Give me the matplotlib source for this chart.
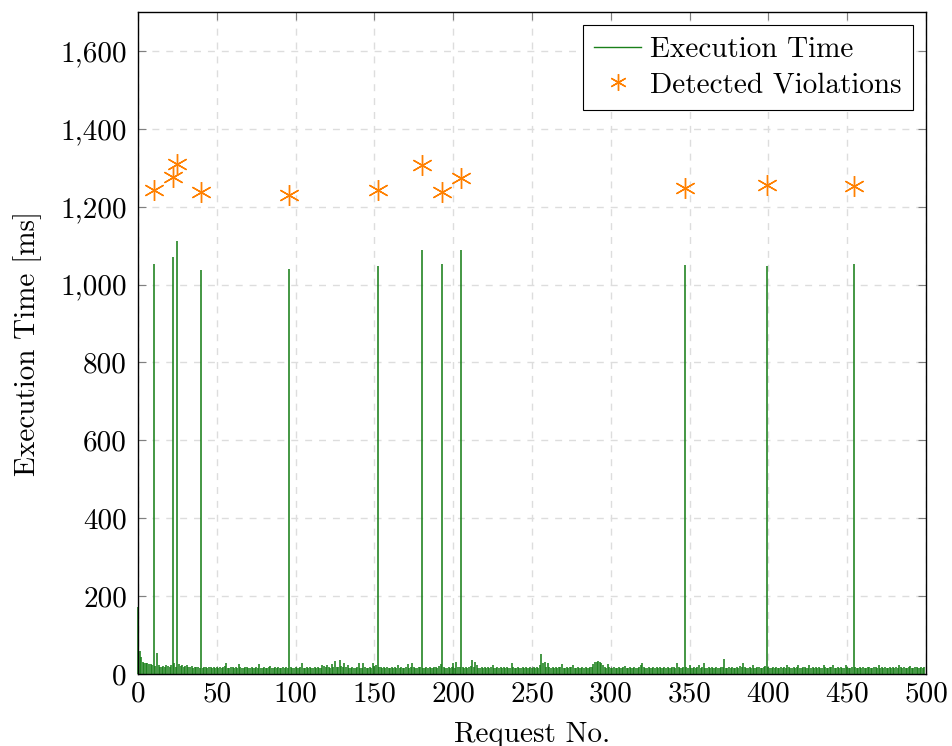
import numpy as np
import matplotlib
matplotlib.use("Agg")
import matplotlib.pyplot as plt
from matplotlib.lines import Line2D
from matplotlib.ticker import FuncFormatter, MultipleLocator

plt.rcParams['font.family'] = ['cmr10', 'DejaVu Serif']
plt.rcParams['axes.unicode_minus'] = False
plt.rcParams['axes.formatter.use_mathtext'] = True

# execution time per request (ms), requests 0..499
exec_time = [
    172, 60, 44, 30, 28, 27, 27, 26, 25, 22, 1054, 20, 55, 22, 18, 17, 20, 18, 24, 21, 19, 24, 1072, 27, 19,
    1113, 26, 20, 24, 18, 20, 22, 17, 19, 20, 16, 18, 19, 17, 16, 1037, 16, 18, 17, 15, 19, 17, 16, 18, 15,
    17, 16, 19, 15, 17, 20, 28, 16, 15, 18, 17, 16, 19, 15, 26, 17, 16, 15, 18, 17, 15, 16, 19, 16, 15,
    17, 16, 25, 16, 15, 18, 16, 15, 17, 21, 16, 15, 18, 16, 17, 15, 16, 19, 15, 17, 16, 1040, 18, 16, 15,
    17, 16, 15, 18, 27, 16, 15, 17, 16, 19, 15, 16, 17, 15, 18, 16, 15, 24, 20, 17, 22, 18, 16, 26, 18,
    34, 17, 19, 36, 20, 17, 29, 18, 22, 16, 15, 17, 16, 15, 18, 28, 16, 15, 27, 17, 16, 15, 18, 16, 29,
    20, 22, 1047, 19, 17, 16, 18, 15, 17, 16, 15, 18, 16, 17, 15, 24, 16, 17, 15, 16, 18, 25, 16, 19, 29,
    17, 15, 16, 18, 17, 1088, 16, 15, 18, 16, 17, 15, 16, 18, 17, 16, 20, 25, 1052, 17, 16, 15, 18, 16, 17,
    27, 16, 30, 18, 17, 1088, 18, 16, 17, 15, 18, 20, 37, 17, 30, 22, 16, 15, 17, 16, 18, 15, 17, 16, 18,
    22, 16, 15, 17, 16, 18, 15, 19, 16, 17, 15, 16, 29, 17, 15, 16, 18, 16, 15, 17, 16, 18, 15, 16, 17,
    15, 18, 16, 17, 15, 22, 51, 27, 30, 18, 27, 17, 16, 18, 15, 17, 16, 18, 17, 26, 16, 15, 17, 16, 18,
    17, 24, 16, 15, 17, 16, 15, 18, 16, 17, 15, 16, 18, 17, 26, 30, 32, 33, 30, 27, 22, 18, 16, 25, 17,
    15, 16, 17, 15, 16, 18, 15, 16, 17, 20, 16, 15, 17, 16, 15, 18, 16, 15, 17, 22, 28, 17, 16, 15, 18,
    16, 15, 19, 16, 17, 15, 18, 16, 15, 17, 16, 19, 15, 16, 18, 17, 16, 28, 17, 15, 16, 18, 1050, 17, 16,
    22, 16, 15, 17, 16, 18, 22, 16, 17, 28, 16, 15, 17, 16, 18, 15, 16, 17, 15, 16, 18, 17, 38, 16, 15,
    17, 16, 18, 15, 16, 17, 15, 20, 17, 28, 18, 16, 15, 17, 16, 22, 15, 16, 18, 17, 16, 15, 18, 20, 1047,
    17, 16, 15, 17, 16, 18, 15, 16, 17, 15, 18, 16, 24, 17, 16, 15, 18, 16, 17, 22, 15, 16, 18, 17, 16,
    15, 24, 16, 17, 15, 18, 16, 17, 15, 16, 22, 17, 15, 16, 18, 17, 22, 16, 15, 17, 16, 18, 15, 16, 22,
    17, 15, 16, 18, 1052, 17, 16, 15, 18, 16, 17, 15, 16, 18, 17, 15, 16, 18, 17, 16, 23, 15, 17, 16, 18,
    15, 16, 17, 15, 18, 16, 17, 15, 22, 17, 16, 18, 15, 16, 17, 20, 16, 15, 18, 17, 16, 15, 17, 16, 18,
]
requests = np.arange(len(exec_time))

# detected violations
viol_req = [10, 22, 25, 40, 96, 152, 180, 193, 205, 347, 399, 454]
viol_val = [1244, 1276, 1310, 1237, 1231, 1242, 1307, 1237, 1273, 1247, 1255, 1252]

green = (0.1, 0.5, 0.1)
orange = (1.0, 0.5, 0.0)
fs = 21

fig = plt.figure(figsize=(9.52, 7.46), dpi=100)
ax = fig.add_axes([0.145, 0.0965, 0.8277, 0.8874])

ax.vlines(requests, 0, exec_time, color=green, linewidth=1.15, zorder=2, clip_on=False)
ax.plot(viol_req, viol_val, linestyle='none', marker=(6, 2, 0), markersize=15,
        markeredgewidth=1.0, color=orange, zorder=3)

ax.set_xlim(0, 500)
ax.set_ylim(0, 1700)
ax.xaxis.set_major_locator(MultipleLocator(50))
ax.yaxis.set_major_locator(MultipleLocator(200))
ax.yaxis.set_major_formatter(FuncFormatter(lambda v, p: '{:,.0f}'.format(v)))
ax.xaxis.set_major_formatter(FuncFormatter(lambda v, p: '{:.0f}'.format(v)))

ax.grid(True, linestyle=(0, (5, 5)), color='#dddddd', linewidth=1.0, zorder=0)
ax.set_axisbelow(True)
ax.tick_params(direction='in', length=6, width=0.8, color='#808080',
               top=True, right=True, labelsize=fs)
ax.tick_params(axis='y', pad=8)
ax.tick_params(axis='x', pad=5)
for s in ax.spines.values():
    s.set_linewidth(1.0)
    s.set_zorder(4)

ax.set_xlabel('Request No.', fontsize=fs, labelpad=10)
ax.set_ylabel('Execution Time [ms]', fontsize=fs, labelpad=13)

handles = [Line2D([], [], color=green, linewidth=1.0),
           Line2D([], [], linestyle='none', marker=(6, 2, 0), markersize=12,
                  markeredgewidth=1.0, color=orange)]
leg = ax.legend(handles, ['Execution Time', 'Detected Violations'], loc='upper right',
                fontsize=fs, fancybox=False, framealpha=1, edgecolor='black',
                borderaxespad=0.45, handlelength=1.6, handletextpad=0.3,
                borderpad=0.4, labelspacing=0.3)
leg.get_frame().set_linewidth(0.8)

fig.savefig('out.png', dpi=100)
